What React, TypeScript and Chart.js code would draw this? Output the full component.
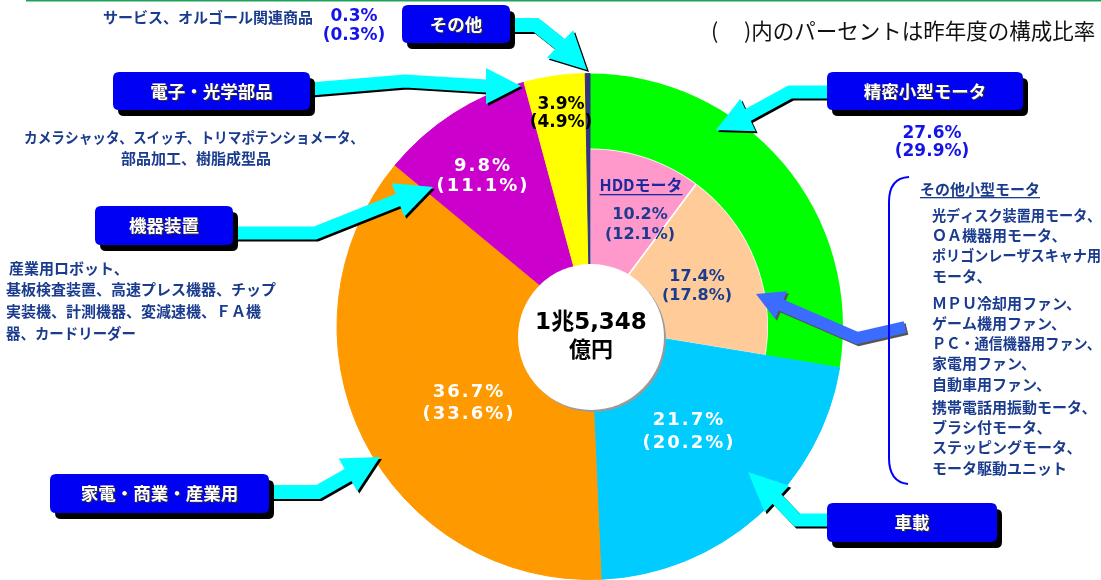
import React, { useEffect, useRef } from 'react';
import { Chart, registerables } from 'chart.js';

Chart.register(...registerables);

// ---------- data ----------
const segmentNames = ['精密小型モータ', '車載', '家電・商業・産業用', '機器装置', '電子・光学部品', 'その他'];
const shareThisYear = [27.6, 21.7, 36.7, 9.8, 3.9, 0.3];
const sharePrevYear = [29.9, 20.2, 33.6, 11.1, 4.9, 0.3];
const segmentColors = ['#00FF00', '#00CCFF', '#FF9900', '#CC00CC', '#FFFF00', '#333380'];

const subNames = ['HDDモータ', 'その他小型モータ'];
const subShareThisYear = [10.2, 17.4];
const subSharePrevYear = [12.1, 17.8];
const subColors = ['#FF99CC', '#FFCC99'];

const totalLines = ['1兆5,348', '億円'];
const noteOpen = '(';
const noteRest = ')内のパーセントは昨年度の構成比率';
const otherDesc = 'サービス、オルゴール関連商品';
const electronicDesc = ['カメラシャッタ、スイッチ、トリマポテンショメータ、', '部品加工、樹脂成型品'];
const equipmentDesc = [
  '産業用ロボット、',
  '基板検査装置、高速プレス機器、チップ',
  '実装機、計測機器、変減速機、ＦＡ機',
  '器、カードリーダー',
];
const smallMotorDesc = [
  '光ディスク装置用モータ、',
  'ＯＡ機器用モータ、',
  'ポリゴンレーザスキャナ用',
  'モータ、',
  'ＭＰＵ冷却用ファン、',
  'ゲーム機用ファン、',
  'ＰＣ・通信機器用ファン、',
  '家電用ファン、',
  '自動車用ファン、',
  '携帯電話用振動モータ、',
  'ブラシ付モータ、',
  'ステッピングモータ、',
  'モータ駆動ユニット',
];

// ---------- layout / style ----------
const JP = '"Noto Sans CJK JP", "Noto Sans", sans-serif';
const NUM = '"DejaVu Sans", "Noto Sans CJK JP", sans-serif';
const NAVY = '#1B3C8E';
const BRIGHT = '#1414E6';
const BOX_BLUE = '#0000F2';
const CYAN = '#00FFFF';

// label positions for main segments: [x, y1, y2, color, fontSize, spacing]
const segLabelLayout: [number, number, number, string, number, number][] = [
  [932, 134, 152, BRIGHT, 17, 0],
  [688, 420, 443, '#FFFFFF', 18, 2],
  [468, 392, 414, '#FFFFFF', 18, 2],
  [482, 166, 186, '#FFFFFF', 18, 2],
  [561, 105, 123, '#000000', 17, 0],
  [354, 17, 36, BRIGHT, 17, 0],
];
const subLabelLayout: [number, number, number][] = [
  [640, 215, 235],
  [697, 277, 296],
];

// boxes: segment index -> rect
const boxLayout: [number, number, number, number, number][] = [
  [0, 827, 72, 196, 38],
  [1, 827, 503, 170, 39],
  [2, 50, 474, 219, 39],
  [3, 95, 206, 138, 39],
  [4, 113, 72, 197, 38],
  [5, 402, 5, 108, 38],
];

type Pt = [number, number];
const arrowLayout: { pts: Pt[]; tip: Pt; w: number; headW: number; color: string; shadow: string }[] = [
  { pts: [[510, 25], [536, 25], [560, 44]], tip: [587, 70], w: 14, headW: 38, color: CYAN, shadow: '#000' },
  { pts: [[310, 89], [405, 81], [486, 86]], tip: [521, 86], w: 13, headW: 36, color: CYAN, shadow: '#000' },
  { pts: [[233, 233], [315, 233], [398, 200]], tip: [433, 187], w: 13, headW: 36, color: CYAN, shadow: '#000' },
  { pts: [[269, 492], [318, 492], [348, 475]], tip: [380, 457], w: 14, headW: 38, color: CYAN, shadow: '#000' },
  { pts: [[827, 92], [790, 92], [748, 115]], tip: [716, 130], w: 13, headW: 36, color: CYAN, shadow: '#000' },
  { pts: [[827, 520], [797, 520], [777, 499]], tip: [748, 472], w: 13, headW: 36, color: CYAN, shadow: '#000' },
  { pts: [[905, 327], [857, 338], [781, 305]], tip: [756, 294], w: 12, headW: 30, color: '#3B6CFF', shadow: '#555' },
];

const pct = (v: number) => `${v.toFixed(1)}%`;
const prevPct = (v: number) => `(${v.toFixed(1)}%)`;

function rr(ctx: CanvasRenderingContext2D, x: number, y: number, w: number, h: number, r: number) {
  ctx.beginPath();
  ctx.moveTo(x + r, y);
  ctx.lineTo(x + w - r, y);
  ctx.quadraticCurveTo(x + w, y, x + w, y + r);
  ctx.lineTo(x + w, y + h - r);
  ctx.quadraticCurveTo(x + w, y + h, x + w - r, y + h);
  ctx.lineTo(x + r, y + h);
  ctx.quadraticCurveTo(x, y + h, x, y + h - r);
  ctx.lineTo(x, y + r);
  ctx.quadraticCurveTo(x, y, x + r, y);
  ctx.closePath();
}

function drawArrow(ctx: CanvasRenderingContext2D, a: (typeof arrowLayout)[number]) {
  const { pts, tip, w, headW } = a;
  const base = pts[pts.length - 1];
  const dx = tip[0] - base[0];
  const dy = tip[1] - base[1];
  const len = Math.hypot(dx, dy);
  const ux = dx / len, uy = dy / len;
  const nx = -uy, ny = ux;
  const draw = (c: string) => {
    ctx.strokeStyle = c;
    ctx.fillStyle = c;
    ctx.lineWidth = w;
    ctx.lineJoin = 'miter';
    ctx.lineCap = 'butt';
    ctx.beginPath();
    ctx.moveTo(pts[0][0], pts[0][1]);
    for (let i = 1; i < pts.length; i++) ctx.lineTo(pts[i][0], pts[i][1]);
    ctx.lineTo(base[0] + ux * 4, base[1] + uy * 4);
    ctx.stroke();
    ctx.beginPath();
    ctx.moveTo(tip[0], tip[1]);
    ctx.lineTo(base[0] + (nx * headW) / 2, base[1] + (ny * headW) / 2);
    ctx.lineTo(base[0] - (nx * headW) / 2, base[1] - (ny * headW) / 2);
    ctx.closePath();
    ctx.fill();
  };
  ctx.save();
  ctx.translate(2, 2);
  draw(a.shadow);
  ctx.restore();
  draw(a.color);
}

function drawBox(ctx: CanvasRenderingContext2D, text: string, x: number, y: number, w: number, h: number) {
  ctx.fillStyle = '#000';
  rr(ctx, x + 5, y + 6, w, h, 6);
  ctx.fill();
  ctx.fillStyle = BOX_BLUE;
  rr(ctx, x, y, w, h, 6);
  ctx.fill();
  ctx.font = `bold 17.5px ${JP}`;
  ctx.textAlign = 'center';
  ctx.textBaseline = 'middle';
  ctx.fillStyle = '#333';
  ctx.fillText(text, x + w / 2 + 1.2, y + h / 2 + 1.2);
  ctx.fillStyle = '#FFF';
  ctx.fillText(text, x + w / 2, y + h / 2);
}

function text(
  ctx: CanvasRenderingContext2D,
  s: string,
  x: number,
  y: number,
  font: string,
  color: string,
  align: CanvasTextAlign = 'left',
  maxW?: number,
  spacing = 0,
) {
  ctx.font = font;
  ctx.fillStyle = color;
  ctx.textAlign = align;
  ctx.textBaseline = 'middle';
  (ctx as any).letterSpacing = `${spacing}px`;
  let dx = 0;
  if (spacing && align === 'center') dx = spacing / 2;
  if (maxW) ctx.fillText(s, x + dx, y, maxW);
  else ctx.fillText(s, x + dx, y);
  (ctx as any).letterSpacing = '0px';
}

const annotations = {
  id: 'annotations',
  afterDraw(chart: Chart) {
    const ctx = chart.ctx;
    ctx.save();

    // top green rule
    ctx.fillStyle = '#1FA35C';
    ctx.fillRect(26, 0, 1075, 1.5);

    // arrows
    arrowLayout.forEach((a) => drawArrow(ctx, a));

    // boxes
    boxLayout.forEach(([i, x, y, w, h]) => drawBox(ctx, segmentNames[i], x, y, w, h));

    // center circle
    ctx.fillStyle = '#9a9a9a';
    ctx.beginPath();
    ctx.arc(593, 339, 73, 0, Math.PI * 2);
    ctx.fill();
    ctx.fillStyle = '#FFF';
    ctx.beginPath();
    ctx.arc(591, 337, 73, 0, Math.PI * 2);
    ctx.fill();
    text(ctx, totalLines[0], 591, 323, `bold 23px ${NUM}`, '#000', 'center');
    text(ctx, totalLines[1], 591, 349, `bold 22px ${JP}`, '#000', 'center');

    // segment labels
    segLabelLayout.forEach(([x, y1, y2, color, fs, sp], i) => {
      text(ctx, pct(shareThisYear[i]), x, y1, `bold ${fs}px ${NUM}`, color, 'center', undefined, sp);
      text(ctx, prevPct(sharePrevYear[i]), x, y2, `bold ${fs}px ${NUM}`, color, 'center', undefined, sp);
    });
    subLabelLayout.forEach(([x, y1, y2], i) => {
      text(ctx, pct(subShareThisYear[i]), x, y1, `bold 16px ${NUM}`, NAVY, 'center');
      text(ctx, prevPct(subSharePrevYear[i]), x, y2, `bold 16px ${NUM}`, NAVY, 'center');
    });

    // HDD title (underlined)
    text(ctx, subNames[0], 641, 185, `bold 16px ${JP}`, '#1A2A9C', 'center');
    ctx.font = `bold 16px ${JP}`;
    const hw = ctx.measureText(subNames[0]).width;
    ctx.fillStyle = '#1A2A9C';
    ctx.fillRect(641 - hw / 2, 194, hw, 1.3);

    // note
    text(ctx, noteOpen, 711, 31, `21.5px ${JP}`, '#111');
    text(ctx, noteRest, 744, 31, `21.5px ${JP}`, '#111');

    // other desc
    text(ctx, otherDesc, 103, 17, `bold 15px ${JP}`, NAVY, 'left', 213);

    // electronic desc
    text(ctx, electronicDesc[0], 194, 137, `bold 15px ${JP}`, NAVY, 'center', 340);
    text(ctx, electronicDesc[1], 196, 158, `bold 15px ${JP}`, NAVY, 'center', 170);

    // equipment desc
    const eqX = [9, 6, 6, 6];
    const eqW = [120, 283, 283, 130];
    equipmentDesc.forEach((s, i) => {
      text(ctx, s, eqX[i], 268 + i * 21.7, `bold 15px ${JP}`, NAVY, 'left', eqW[i]);
    });

    // small motor section
    ctx.strokeStyle = '#0000FF';
    ctx.lineWidth = 2;
    ctx.beginPath();
    ctx.moveTo(909, 177);
    ctx.quadraticCurveTo(889, 178, 889, 202);
    ctx.lineTo(889, 458);
    ctx.quadraticCurveTo(889, 482, 908, 484);
    ctx.stroke();

    text(ctx, subNames[1], 920, 189, `bold 15px ${JP}`, NAVY, 'left');
    ctx.font = `bold 15px ${JP}`;
    const sw = ctx.measureText(subNames[1]).width;
    ctx.fillStyle = NAVY;
    ctx.fillRect(920, 197, sw, 1.3);

    const listY = [215, 235, 255, 276, 303, 323, 343, 363, 384, 407, 427, 447, 468];
    smallMotorDesc.forEach((s, i) => {
      text(ctx, s, 932, listY[i], `bold 15px ${JP}`, NAVY, 'left', 169);
    });

    ctx.restore();
  },
};

export default function App() {
  const ref = useRef<HTMLCanvasElement>(null);
  useEffect(() => {
    document.body.style.margin = '0';
    const canvas = ref.current!;
    const outerBorderColors = segmentColors.map((c, i) => (i === 0 ? '#00FF00' : c));
    const innerData = [...subShareThisYear, ...shareThisYear.slice(1)];
    const innerColors = [...subColors, ...segmentColors.slice(1)];
    const innerBorderColors = ['#FFFFFF', '#FFFFFF', ...segmentColors.slice(1)];
    const chart = new Chart(canvas, {
      type: 'doughnut',
      data: {
        labels: [...subNames, ...segmentNames.slice(1)],
        datasets: [
          {
            data: shareThisYear,
            backgroundColor: segmentColors,
            borderColor: outerBorderColors,
            borderWidth: [0, 1, 1, 1, 1, 1],
            weight: 75,
          },
          {
            data: innerData,
            backgroundColor: innerColors,
            borderColor: innerBorderColors,
            borderWidth: [1.5, 1.5, 1, 1, 1, 1, 1],
            weight: 178,
          },
        ],
      },
      options: {
        responsive: false,
        maintainAspectRatio: false,
        animation: false,
        events: [],
        cutout: 0,
        rotation: 0,
        layout: { padding: { left: 336, right: 257, top: 73, bottom: 0 } },
        plugins: {
          legend: { display: false },
          tooltip: { enabled: false },
        },
      },
      plugins: [annotations],
    });
    return () => chart.destroy();
  }, []);
  return (
    <div style={{ width: 1101, height: 580, position: 'relative', background: '#fff' }}>
      <canvas ref={ref} width={1101} height={580} style={{ display: 'block', width: 1101, height: 580 }} />
    </div>
  );
}
